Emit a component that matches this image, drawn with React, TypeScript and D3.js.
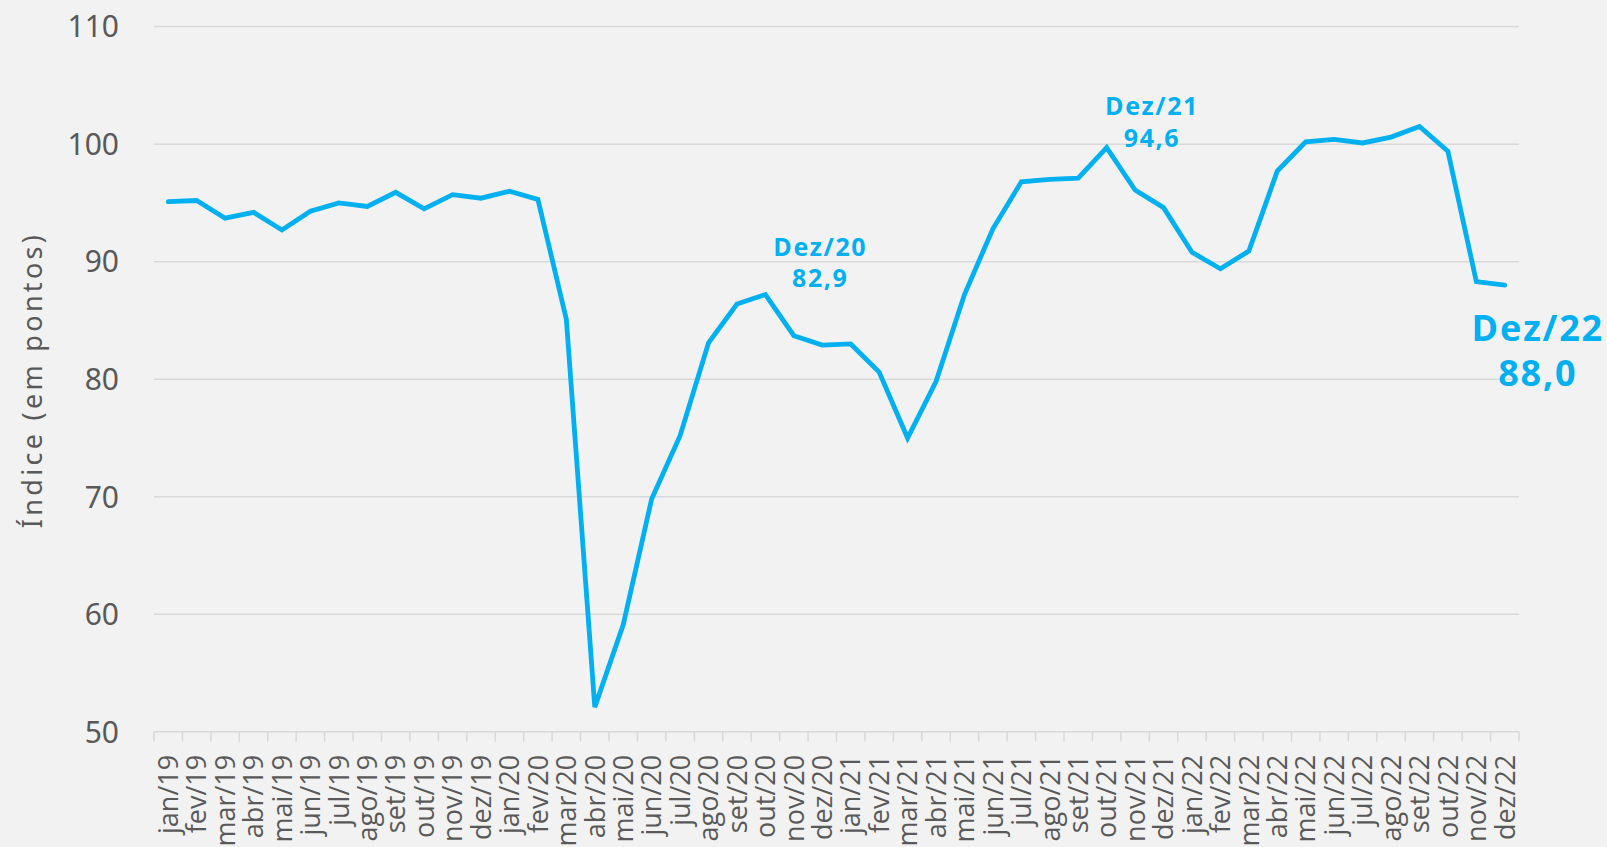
import React from "react";
import * as d3 from "d3";

const months = [
  "jan/19","fev/19","mar/19","abr/19","mai/19","jun/19","jul/19","ago/19","set/19","out/19","nov/19","dez/19",
  "jan/20","fev/20","mar/20","abr/20","mai/20","jun/20","jul/20","ago/20","set/20","out/20","nov/20","dez/20",
  "jan/21","fev/21","mar/21","abr/21","mai/21","jun/21","jul/21","ago/21","set/21","out/21","nov/21","dez/21",
  "jan/22","fev/22","mar/22","abr/22","mai/22","jun/22","jul/22","ago/22","set/22","out/22","nov/22","dez/22",
];

const values = [
  95.1, 95.2, 93.7, 94.2, 92.7, 94.3, 95.0, 94.7, 95.9, 94.5, 95.7, 95.4,
  96.0, 95.3, 85.1, 52.1, 59.1, 69.8, 75.2, 83.1, 86.4, 87.2, 83.7, 82.9,
  83.0, 80.6, 75.0, 79.8, 87.2, 92.8, 96.8, 97.0, 97.1, 99.7, 96.1, 94.6,
  90.8, 89.4, 90.9, 97.7, 100.2, 100.4, 100.1, 100.6, 101.5, 99.4, 88.3, 88.0,
];

const yTicks = [50, 60, 70, 80, 90, 100, 110];

const annotations = [
  { month: "dez/20", title: "Dez/20", value: "82,9", big: false, dx: -2, dy1: -89.5, dy2: -58.5 },
  { month: "dez/21", title: "Dez/21", value: "94,6", big: false, dx: -11.5, dy1: -92.5, dy2: -60.5 },
  { month: "dez/22", title: "Dez/22", value: "88,0", big: true, dx: 33, dy1: 56, dy2: 101 },
];

const W = 1607;
const H = 847;
const M = { left: 154, right: 88, top: 26.6, bottom: 115.2 };

export default function App() {
  const x = d3.scaleBand().domain(months).range([M.left, W - M.right]).padding(0);
  const y = d3.scaleLinear().domain([50, 110]).range([H - M.bottom, M.top]);
  const cx = (m: string) => (x(m) as number) + x.bandwidth() / 2;
  const line = d3
    .line<number>()
    .x((_, i) => cx(months[i]))
    .y((d) => y(d));

  const grey = "#595959";
  const blue = "#00b0f0";
  const gridC = "#d9d9d9";
  const baseY = y(50);

  return (
    <div style={{ position: "fixed", left: 0, top: 0, width: W, height: H }}>
      <svg width={W} height={H} style={{ display: "block" }}>
        <rect x={0} y={0} width={W} height={H} fill="#f2f2f2" />
        {yTicks.map((t) =>
          t === 50 ? null : (
            <line key={"g" + t} x1={M.left} x2={W - M.right} y1={y(t)} y2={y(t)} stroke={gridC} strokeWidth={1.5} />
          )
        )}
        <line x1={M.left} x2={W - M.right} y1={baseY} y2={baseY} stroke={gridC} strokeWidth={1.5} />
        {months.map((m) => (
          <line key={"t" + m} x1={x(m)} x2={x(m)} y1={baseY} y2={baseY + 10} stroke={gridC} strokeWidth={1.5} />
        ))}
        <line x1={W - M.right} x2={W - M.right} y1={baseY} y2={baseY + 10} stroke={gridC} strokeWidth={1.5} />
        {yTicks.map((t) => (
          <text
            key={"yl" + t}
            x={119}
            y={y(t)}
            dy="0.36em"
            textAnchor="end"
            fontFamily="'Noto Sans', sans-serif"
            fontSize={30}
            fill={grey}
          >
            {t}
          </text>
        ))}
        <text
          transform={`translate(32,380) rotate(-90)`}
          textAnchor="middle"
          dy="0.36em"
          fontFamily="'Noto Sans', sans-serif"
          fontSize={27}
          letterSpacing={3.3}
          fill={grey}
        >
          Índice (em pontos)
        </text>
        {months.map((m) => (
          <text
            key={"xl" + m}
            transform={`translate(${cx(m)},${baseY + 23}) rotate(-90)`}
            textAnchor="end"
            dy="0.36em"
            fontFamily="'Open Sans', sans-serif"
            fontSize={27}
            fill={grey}
          >
            {m}
          </text>
        ))}
        <path d={line(values) || ""} fill="none" stroke={blue} strokeWidth={4.8} strokeLinejoin="miter" strokeLinecap="round" />
        {annotations.map((a) => {
          const i = months.indexOf(a.month);
          const px = cx(a.month) + a.dx;
          const py = y(values[i]);
          const fs = a.big ? 36 : 25;
          const ls = a.big ? 1.8 : 1.6;
          return (
            <g key={a.title} fontFamily="'Open Sans', sans-serif" fontWeight={700} fill={blue} textAnchor="middle" fontSize={fs} letterSpacing={ls}>
              <text x={px} y={py + a.dy1}>{a.title}</text>
              <text x={px} y={py + a.dy2}>{a.value}</text>
            </g>
          );
        })}
      </svg>
    </div>
  );
}
